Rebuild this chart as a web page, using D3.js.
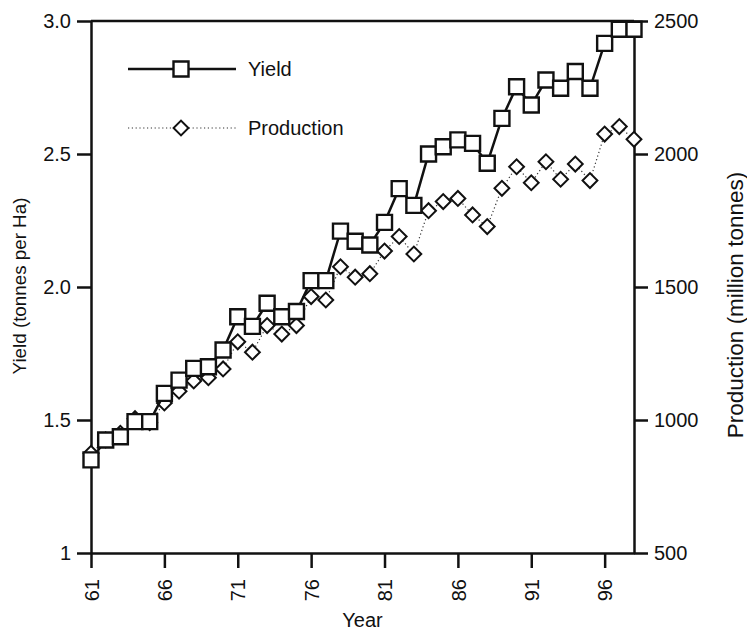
<!DOCTYPE html>
<html><head><meta charset="utf-8">
<script src="https://cdn.jsdelivr.net/npm/d3@7"></script>
<style>
html,body{margin:0;padding:0;background:#fff;}
svg{display:block;background:#fff;}
text{font-family:"Liberation Sans",Arial,Helvetica,sans-serif;fill:#111;}
</style>
</head><body>
<svg id="chart" width="747" height="632"></svg>
<script>
// ---- data ----
const years = [61,62,63,64,65,66,67,68,69,70,71,72,73,74,75,76,77,78,79,80,81,82,83,84,85,86,87,88,89,90,91,92,93,94,95,96,97,98];
const yieldValues = [1.35,1.425,1.437,1.494,1.494,1.60,1.65,1.694,1.70,1.763,1.888,1.852,1.939,1.888,1.908,2.024,2.024,2.21,2.172,2.158,2.243,2.37,2.307,2.50,2.527,2.553,2.54,2.465,2.634,2.753,2.684,2.778,2.747,2.81,2.747,2.916,2.969,2.969];
const productionValues = [875,925,950,1005,990,1064,1108,1147,1159,1192,1294,1255,1355,1323,1355,1464,1451,1576,1537,1550,1635,1690,1624,1787,1821,1833,1771,1727,1871,1952,1892,1971,1905,1962,1900,2075,2103,2055];
const xTickValues = [61,66,71,76,81,86,91,96];
const yieldTicks = [1,1.5,2,2.5,3];
const yieldTickLabels = ["1","1.5","2.0","2.5","3.0"];
const productionTicks = [500,1000,1500,2000,2500];
const seriesNames = ["Yield","Production"];
const xTitle = "Year";
const yLeftTitle = "Yield (tonnes per Ha)";
const yRightTitle = "Production (million tonnes)";

// ---- chart ----
const svg = d3.select("#chart");
const mLeft = 91, mRight = 634, mTop = 21, mBottom = 553;
const x = d3.scaleLinear().domain([61, 98]).range([mLeft, mRight]);
const yL = d3.scaleLinear().domain([1, 3]).range([mBottom, mTop]);
const yR = d3.scaleLinear().domain([500, 2500]).range([mBottom, mTop]);
const FS = 20;
const ink = "#111";

function styleAxis(g) {
  g.selectAll(".domain").attr("stroke", ink).attr("stroke-width", 2.5);
  g.selectAll(".tick line").attr("stroke", ink).attr("stroke-width", 2.5);
  g.selectAll(".tick text").attr("font-size", FS).attr("fill", ink)
    .attr("font-family", '"Liberation Sans",Arial,sans-serif');
}

// top frame line
svg.append("line").attr("x1", x(61)).attr("x2", x(98)).attr("y1", yL(3)).attr("y2", yL(3))
  .attr("stroke", ink).attr("stroke-width", 2.5);

const gx = svg.append("g").attr("transform", `translate(0,${mBottom})`)
  .call(d3.axisBottom(x).tickValues(xTickValues).tickFormat(d => String(d)).tickSize(15).tickSizeOuter(0));
styleAxis(gx);
gx.selectAll(".tick text").attr("transform", "rotate(-90)").attr("text-anchor", "end")
  .attr("x", -26).attr("y", 0).attr("dy", "0.36em");

const gl = svg.append("g").attr("transform", `translate(${mLeft},0)`)
  .call(d3.axisLeft(yL).tickValues(yieldTicks).tickFormat((d, i) => yieldTickLabels[i]).tickSize(14).tickPadding(6).tickSizeOuter(0));
styleAxis(gl);

const gr = svg.append("g").attr("transform", `translate(${mRight},0)`)
  .call(d3.axisRight(yR).tickValues(productionTicks).tickFormat(d => String(d)).tickSize(14).tickPadding(6).tickSizeOuter(0));
styleAxis(gr);

// titles
svg.append("text").attr("x", (mLeft + mRight) / 2).attr("y", 627).attr("text-anchor", "middle")
  .attr("font-size", FS).text(xTitle);
svg.append("text").attr("transform", `translate(19,286) rotate(-90)`)
  .attr("text-anchor", "middle").attr("dy", "0.36em").attr("font-size", 18.8).text(yLeftTitle);
svg.append("text").attr("transform", `translate(735,305) rotate(-90)`)
  .attr("text-anchor", "middle").attr("dy", "0.36em").attr("font-size", 22.5).text(yRightTitle);

// data
const rows = years.map((yr, i) => ({ year: yr, yld: yieldValues[i], prod: productionValues[i] }));

const prodLine = d3.line().x(d => x(d.year)).y(d => yR(d.prod));
const yldLine = d3.line().x(d => x(d.year)).y(d => yL(d.yld));
const diamond = d3.symbol().type(d3.symbolSquare).size(110);
const square = d3.symbol().type(d3.symbolSquare).size(225);

svg.append("path").datum(rows).attr("d", prodLine).attr("fill", "none")
  .attr("stroke", "#333").attr("stroke-width", 1.2).attr("stroke-dasharray", "1.2,2.6");
svg.append("g").selectAll("path").data(rows).join("path")
  .attr("d", diamond).attr("transform", d => `translate(${x(d.year)},${yR(d.prod)}) rotate(45)`)
  .attr("fill", "#fff").attr("stroke", ink).attr("stroke-width", 2);

svg.append("path").datum(rows).attr("d", yldLine).attr("fill", "none")
  .attr("stroke", ink).attr("stroke-width", 2.5);
svg.append("g").selectAll("path").data(rows).join("path")
  .attr("d", square).attr("transform", d => `translate(${x(d.year)},${yL(d.yld)})`)
  .attr("fill", "#fff").attr("stroke", ink).attr("stroke-width", 2.4);

// legend
const lg = svg.append("g");
lg.append("line").attr("x1", 128).attr("x2", 236).attr("y1", 69).attr("y2", 69)
  .attr("stroke", ink).attr("stroke-width", 2.5);
lg.append("path").attr("d", square).attr("transform", "translate(181,69)")
  .attr("fill", "#fff").attr("stroke", ink).attr("stroke-width", 2.4);
lg.append("text").attr("x", 248).attr("y", 69).attr("dy", "0.36em").attr("font-size", FS).text(seriesNames[0]);
lg.append("line").attr("x1", 128).attr("x2", 236).attr("y1", 128).attr("y2", 128)
  .attr("stroke", "#333").attr("stroke-width", 1.2).attr("stroke-dasharray", "1.2,2.6");
lg.append("path").attr("d", diamond).attr("transform", "translate(181,128) rotate(45)")
  .attr("fill", "#fff").attr("stroke", ink).attr("stroke-width", 2);
lg.append("text").attr("x", 248).attr("y", 128).attr("dy", "0.36em").attr("font-size", FS).text(seriesNames[1]);
</script>
</body></html>
